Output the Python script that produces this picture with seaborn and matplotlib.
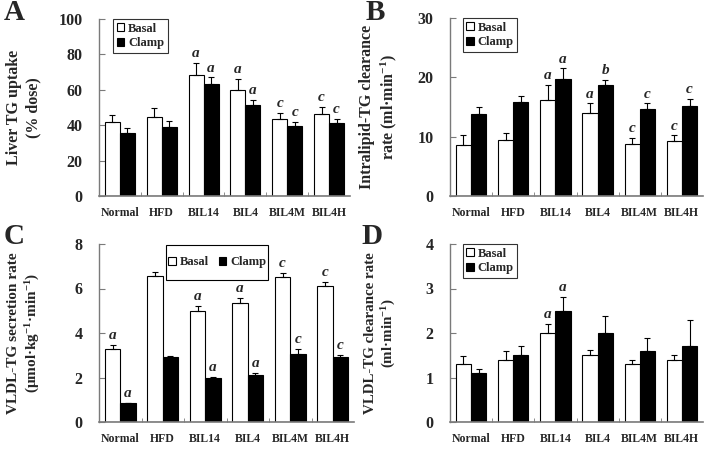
import numpy as np
import pandas as pd
import matplotlib
matplotlib.use("Agg")
import matplotlib.pyplot as plt
import seaborn as sns
from matplotlib.patches import Patch, Rectangle

# Données
groupes = ["Normal", "HFD", "BIL14", "BIL4", "BIL4M", "BIL4H"]

a_basal = [41.8, 44.6, 68.3, 60.0, 43.5, 46.3]
a_basal_err = [4.0, 5.1, 7.1, 6.0, 3.4, 4.0]
a_clamp = [35.6, 39.2, 63.2, 51.4, 39.8, 41.5]
a_clamp_err = [3.0, 3.4, 3.8, 3.0, 2.2, 2.2]
a_lettres_basal = ["", "", "a", "a", "c", "c"]
a_lettres_clamp = ["", "", "a", "a", "c", "c"]

b_basal = [8.6, 9.5, 16.2, 14.0, 8.7, 9.2]
b_basal_err = [1.7, 1.2, 2.5, 1.6, 1.1, 1.0]
b_clamp = [13.8, 15.9, 19.7, 18.7, 14.6, 15.2]
b_clamp_err = [1.2, 1.0, 1.8, 0.9, 1.0, 1.2]
b_lettres_basal = ["", "", "a", "a", "c", "c"]
b_lettres_clamp = ["", "", "a", "b", "c", "c"]

c_basal = [3.26, 6.57, 5.0, 5.36, 6.52, 6.1]
c_basal_err = [0.22, 0.15, 0.22, 0.22, 0.18, 0.21]
c_clamp = [0.84, 2.92, 1.97, 2.12, 3.04, 2.9]
c_clamp_err = [0.03, 0.04, 0.06, 0.08, 0.26, 0.12]
c_lettres_basal = ["a", "", "a", "a", "c", "c"]
c_lettres_clamp = ["a", "", "a", "a", "c", "c"]

d_basal = [1.3, 1.4, 2.0, 1.5, 1.3, 1.4]
d_basal_err = [0.18, 0.2, 0.2, 0.12, 0.1, 0.1]
d_clamp = [1.1, 1.5, 2.5, 2.0, 1.6, 1.7]
d_clamp_err = [0.1, 0.2, 0.32, 0.39, 0.29, 0.6]
d_lettres_basal = ["", "", "a", "", "", ""]
d_lettres_clamp = ["", "", "a", "", "", ""]

sns.set_style("ticks")
plt.rcParams["font.family"] = ["Liberation Serif", "DejaVu Serif"]
plt.rcParams["font.weight"] = "bold"
plt.rcParams["mathtext.fontset"] = "custom"
plt.rcParams["mathtext.rm"] = "Liberation Serif:bold"
plt.rcParams["mathtext.it"] = "Liberation Serif:italic:bold"
plt.rcParams["mathtext.bf"] = "Liberation Serif:bold"

W, H = 709, 450
GRIS = "#7a7a7a"
fig = plt.figure(figsize=(W / 100, H / 100), dpi=100)


def axes_px(x0, y0, x1, y1):
    return fig.add_axes([x0 / W, 1 - y1 / H, (x1 - x0) / W, (y1 - y0) / H])


def panneau(ax, basal, basal_err, clamp, clamp_err, lb, lc, ymax, ystep,
            ylabel, label_x, leg_pos, ylabel_size=11.5, horizontal=False):
    df = pd.DataFrame({
        "groupe": groupes * 2,
        "etat": ["Basal"] * 6 + ["Clamp"] * 6,
        "valeur": list(basal) + list(clamp),
    })
    sns.barplot(data=df, x="groupe", y="valeur", hue="etat", order=groupes,
                hue_order=["Basal", "Clamp"],
                palette={"Basal": "white", "Clamp": "black"},
                errorbar=None, width=0.72, saturation=1, edgecolor="black",
                linewidth=0.8, legend=False, ax=ax)
    for cont, vals, errs, lettres in zip(ax.containers[:2], [basal, clamp],
                                         [basal_err, clamp_err], [lb, lc]):
        xs = [p.get_x() + p.get_width() / 2 for p in cont.patches]
        ax.errorbar(xs, vals, yerr=[np.zeros(len(vals)), errs], fmt="none",
                    ecolor="black", elinewidth=0.8, capsize=2, capthick=0.8)
        for x, v, e, t in zip(xs, vals, errs, lettres):
            if t:
                ax.annotate(t, (x, v + e), xytext=(0, 2),
                            textcoords="offset points", ha="center",
                            va="bottom", fontsize=11, fontstyle="italic",
                            fontweight="bold")
    ax.set_xlim(-0.5, 5.5)
    ax.set_ylim(0, ymax)
    ticks = np.arange(0, ymax + 0.001, ystep)
    ax.set_yticks(ticks)
    ax.set_yticklabels([f"{v:g}" for v in ticks], fontsize=11.5,
                       fontweight="bold")
    ax.set_xticks(range(6))
    ax.set_xticklabels(groupes, fontsize=8.5, fontweight="bold")
    ax.tick_params(axis="x", length=0, pad=8)
    ax.tick_params(axis="y", direction="in", length=4, width=0.8, pad=12,
                   color=GRIS)
    ax.set_xticks(np.arange(0.5, 5.5, 1), minor=True)
    ax.tick_params(axis="x", which="minor", length=3, color=GRIS,
                   direction="in")
    ax.set_xlabel("")
    ax.set_ylabel(ylabel, fontsize=ylabel_size, fontweight="bold",
                  linespacing=1.25)
    ax.yaxis.set_label_coords(label_x, 0.5)
    sns.despine(ax=ax)
    ax.spines["left"].set_linewidth(1.0)
    ax.spines["left"].set_color(GRIS)
    ax.spines["bottom"].set_color(GRIS)
    ax.spines["bottom"].set_linewidth(1.2)

    handles = [Patch(facecolor="white", edgecolor="black", linewidth=0.8),
               Patch(facecolor="black", edgecolor="black", linewidth=0.8)]
    if horizontal:
        x0, y0, x1, y1 = leg_pos
        ax.add_patch(Rectangle((x0, y0), x1 - x0, y1 - y0,
                               transform=ax.transAxes, facecolor="white",
                               edgecolor="black", linewidth=0.8,
                               clip_on=False, zorder=5))
        ax.legend(handles, ["Basal", "Clamp"], loc="center",
                  bbox_to_anchor=((x0 + x1) / 2, (y0 + y1) / 2), ncol=2,
                  fontsize=9, handlelength=0.6, handleheight=0.6,
                  handletextpad=0.3, columnspacing=0.8, borderpad=0.1,
                  frameon=False, borderaxespad=0).set_zorder(6)
    else:
        leg = ax.legend(handles, ["Basal", "Clamp"], loc="upper left",
                        bbox_to_anchor=leg_pos, fontsize=9,
                        handlelength=0.6, handleheight=0.6, handletextpad=0.3,
                        labelspacing=0.2, borderpad=0.3, frameon=True,
                        fancybox=False, borderaxespad=0)
        leg.get_frame().set_edgecolor("black")
        leg.get_frame().set_linewidth(0.8)


ax_a = axes_px(99, 19, 350, 196)
ax_b = axes_px(450, 18, 703, 196)
ax_c = axes_px(99, 244, 354, 422)
ax_d = axes_px(450, 244, 703, 422)

panneau(ax_a, a_basal, a_basal_err, a_clamp, a_clamp_err,
        a_lettres_basal, a_lettres_clamp, 100, 20,
        "Liver TG uptake\n(% dose)", -0.23, (0.056, 1.0))
panneau(ax_b, b_basal, b_basal_err, b_clamp, b_clamp_err,
        b_lettres_basal, b_lettres_clamp, 30, 10,
        "Intralipid-TG clearance\nrate (ml·min$^{-1}$)", -0.2, (0.05, 1.0))
panneau(ax_c, c_basal, c_basal_err, c_clamp, c_clamp_err,
        c_lettres_basal, c_lettres_clamp, 8, 2,
        "VLDL-TG secretion rate\n(μmol·kg$^{-1}$·min$^{-1}$)", -0.225,
        (0.263, 0.80, 0.663, 0.995), ylabel_size=11, horizontal=True)
panneau(ax_d, d_basal, d_basal_err, d_clamp, d_clamp_err,
        d_lettres_basal, d_lettres_clamp, 4, 1,
        "VLDL-TG clearance rate\n(ml·min$^{-1}$)", -0.205, (0.05, 1.0),
        ylabel_size=10.8)

for lettre, x, y in [("A", 14, 13), ("B", 375, 13), ("C", 14, 237), ("D", 372, 237)]:
    fig.text(x / W, 1 - y / H, lettre, fontsize=21, fontweight="bold",
             ha="center", va="center")

fig.savefig("out.png", dpi=100)
